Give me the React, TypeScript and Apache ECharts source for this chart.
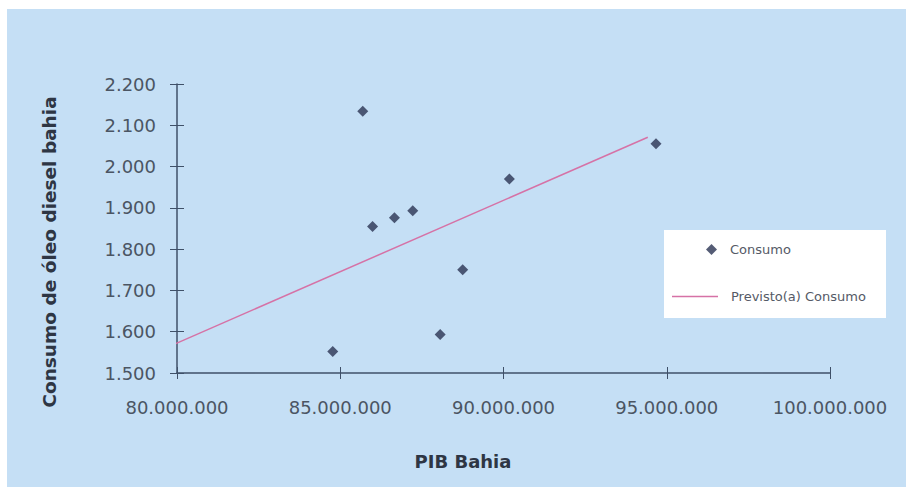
import React, { useEffect, useRef } from "react";
import * as echarts from "echarts";

const pibBahia = [85690000, 85990000, 86660000, 87220000, 90180000, 94670000, 88750000, 88060000, 84770000];
const consumo = [2134, 1855, 1876, 1893, 1970, 2055, 1750, 1593, 1552];
const trendX = [79750000, 94420000];
const trendY = [1564, 2071];
const xTicks = { min: 80000000, max: 100000000, interval: 5000000 };
const yTicks = { min: 1500, max: 2200, interval: 100 };

const fmt = (v: number) => String(Math.round(v)).replace(/\B(?=(\d{3})+(?!\d))/g, ".");

export default function App() {
  const ref = useRef<HTMLDivElement>(null);
  useEffect(() => {
    document.body.style.margin = "0";
    const chart = echarts.init(ref.current!, null, { renderer: "svg" });
    const axisColor = "#3f5068";
    const labelColor = "#4b5563";
    const font = "DejaVu Sans";
    const baseX = {
      type: "value",
      min: xTicks.min,
      max: xTicks.max,
      interval: xTicks.interval,
      splitLine: { show: false },
    };
    const baseY = {
      type: "value",
      min: yTicks.min,
      max: yTicks.max,
      interval: yTicks.interval,
      splitLine: { show: false },
    };
    chart.setOption({
      animation: false,
      backgroundColor: "#ffffff",
      grid: { left: 177, right: 76, top: 84, bottom: 114 },
      xAxis: [
        {
          ...baseX,
          axisLine: { show: true, lineStyle: { color: axisColor, width: 1.5 } },
          axisTick: { show: true, length: 6, lineStyle: { color: axisColor } },
          axisLabel: { margin: 25, color: labelColor, fontFamily: font, fontSize: 18, formatter: fmt },
        },
        {
          ...baseX,
          position: "bottom",
          axisLine: { show: false },
          axisTick: { show: true, inside: true, length: 6, lineStyle: { color: axisColor } },
          axisLabel: { show: false },
        },
      ],
      yAxis: [
        {
          ...baseY,
          axisLine: { show: true, lineStyle: { color: axisColor, width: 1.5 } },
          axisTick: { show: true, length: 7, lineStyle: { color: axisColor } },
          axisLabel: { margin: 21, color: labelColor, fontFamily: font, fontSize: 18, formatter: fmt },
        },
        {
          ...baseY,
          position: "left",
          axisLine: { show: false },
          axisTick: { show: true, inside: true, length: 7, lineStyle: { color: axisColor } },
          axisLabel: { show: false },
        },
      ],
      legend: [
        {
          data: ["Consumo"],
          left: 701,
          top: 238,
          itemWidth: 11,
          itemHeight: 11,
          z: 10,
          textStyle: { fontFamily: font, fontSize: 13, color: "#555a66", padding: [0, 0, 0, 8] },
        },
        {
          data: [{ name: "Previsto(a) Consumo", icon: "rect" }],
          left: 667,
          top: 285,
          itemWidth: 46,
          itemHeight: 1.5,
          z: 10,
          textStyle: { fontFamily: font, fontSize: 13, color: "#555a66", padding: [0, 0, 0, 8] },
        },
      ],
      graphic: [
        {
          type: "rect",
          z: -100,
          silent: true,
          shape: { x: 7, y: 9, width: 899, height: 478 },
          style: { fill: "#c5dff5" },
        },
        {
          type: "rect",
          z: 1,
          silent: true,
          shape: { x: 664, y: 230, width: 222, height: 88 },
          style: { fill: "#ffffff" },
        },
        {
          type: "text",
          x: 49,
          y: 252,
          rotation: Math.PI / 2,
          style: {
            text: "Consumo de óleo diesel bahia",
            fontFamily: font,
            fontWeight: "bold",
            fontSize: 18.5,
            fill: "#2e3644",
            align: "center",
            verticalAlign: "middle",
          },
        },
        {
          type: "text",
          x: 463,
          y: 461,
          style: {
            text: "PIB Bahia",
            fontFamily: font,
            fontWeight: "bold",
            fontSize: 18,
            fill: "#2e3644",
            align: "center",
            verticalAlign: "middle",
          },
        },
      ],
      series: [
        {
          name: "Previsto(a) Consumo",
          type: "line",
          symbol: "none",
          clip: false,
          lineStyle: { color: "#d672a6", width: 1.5 },
          itemStyle: { color: "#d672a6" },
          data: trendX.map((x, i) => [x, trendY[i]]),
        },
        {
          name: "Consumo",
          type: "scatter",
          symbol: "diamond",
          symbolSize: 11,
          itemStyle: { color: "#2b3352" },
          data: pibBahia.map((x, i) => [x, consumo[i]]),
        },
      ],
    });
    return () => chart.dispose();
  }, []);
  return <div ref={ref} style={{ width: 906, height: 487 }} />;
}
